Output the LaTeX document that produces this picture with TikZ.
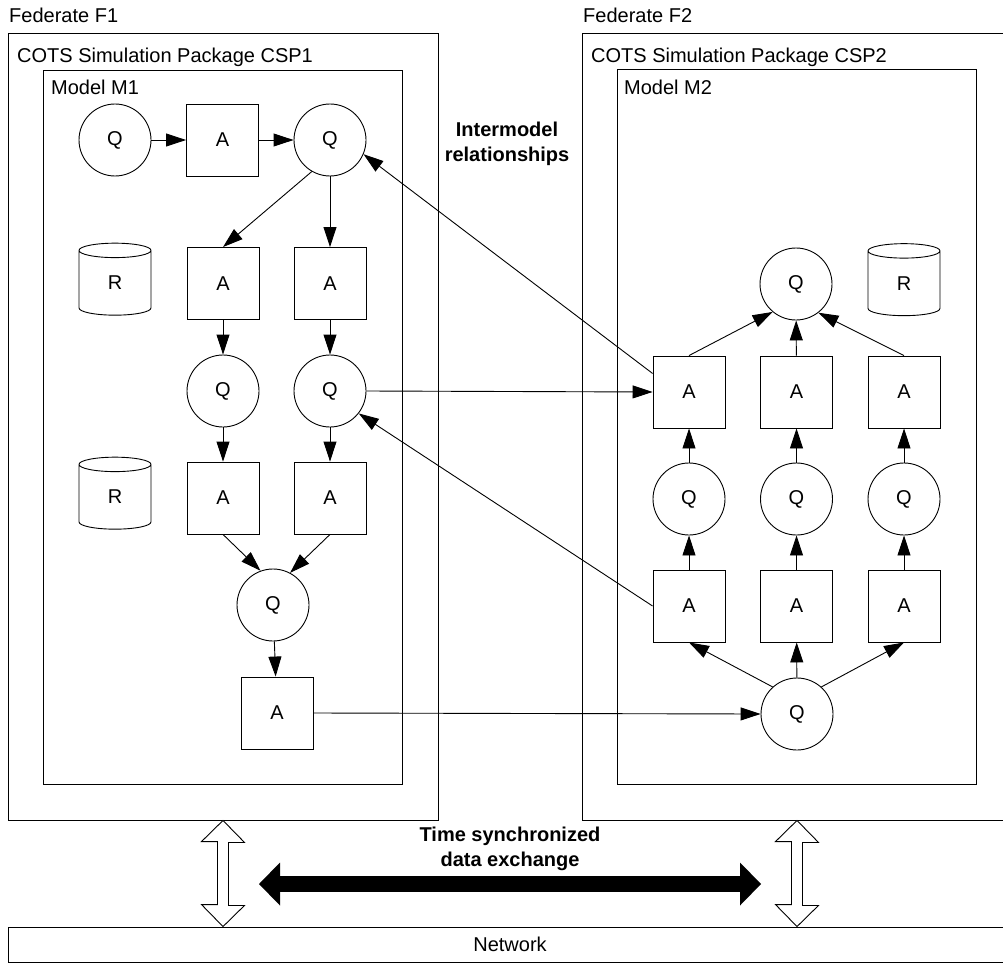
\documentclass[tikz,border=0pt]{standalone}
\usepackage{fontspec}
\setmainfont{Liberation Sans}
\usetikzlibrary{arrows.meta,shapes.geometric}

\tikzset{
  queue/.style={circle, draw, line width=0.9pt, minimum size=72pt, inner sep=0pt},
  activity/.style={rectangle, draw, line width=0.9pt, minimum size=72pt, inner sep=0pt},
  resource/.style={cylinder, draw, line width=0.9pt, shape border rotate=90, aspect=1,
    minimum width=72pt, minimum height=72pt, inner sep=0pt},
  container/.style={rectangle, draw, line width=0.9pt, inner sep=0pt},
  caption/.style={anchor=base west, inner sep=0pt},
  flow/.style={-{Triangle[length=20pt,width=13pt]}, line width=0.9pt},
  hollow/.style={draw, fill=white, line width=0.9pt, line join=miter},
}

\begin{document}
\begin{tikzpicture}[x=1pt,y=-1pt,font=\fontsize{20pt}{24.5pt}\selectfont]
  \useasboundingbox (0,0) rectangle (1003,963);
  \clip (0,0) rectangle (1003,963);

  % federates, packages and models
  \node[container, minimum width=430pt, minimum height=787pt] (fed1) at (223,426.5) {};
  \node[container, minimum width=359pt, minimum height=714pt] (mod1) at (222.5,427) {};
  \node[container, minimum width=430pt, minimum height=787pt] (fed2) at (797,426.5) {};
  \node[container, minimum width=359pt, minimum height=715pt] (mod2) at (796.5,426.5) {};
  \node[container, minimum width=1004pt, minimum height=35pt] (network) at (510,944.5) {Network};

  \node[caption] (fed1label) at (9,23) {Federate F1};
  \node[caption] (csp1label) at (17,63) {COTS Simulation Package CSP1};
  \node[caption] (mod1label) at (51,95) {Model M1};
  \node[caption] (fed2label) at (583,23) {Federate F2};
  \node[caption] (csp2label) at (591,63) {COTS Simulation Package CSP2};
  \node[caption] (mod2label) at (624,95) {Model M2};

  % model M1
  \node[queue] (q11) at (115,140) {Q};
  \node[activity] (a11) at (222.5,140) {A};
  \node[queue] (q12) at (330,140) {Q};
  \node[resource] (r1) at (115,283) {R};
  \node[activity] (a21) at (223,283.5) {A};
  \node[activity] (a22) at (330,283.5) {A};
  \node[queue] (q21) at (223,391) {Q};
  \node[queue] (q22) at (330,391) {Q};
  \node[resource] (r2) at (115,497) {R};
  \node[activity] (a31) at (223,498) {A};
  \node[activity] (a32) at (330,498) {A};
  \node[queue] (q3) at (273,605) {Q};
  \node[activity] (a4) at (277,713) {A};

  \draw[flow] (q11) -- (a11);
  \draw[flow] (a11) -- (q12);
  \draw[flow] (q12.240) -- (a21.north);
  \draw[flow] (q12) -- (a22);
  \draw[flow] (a21) -- (q21);
  \draw[flow] (a22) -- (q22);
  \draw[flow] (q21) -- (a31);
  \draw[flow] (q22) -- (a32);
  \draw[flow] (a31.south) -- (q3.110);
  \draw[flow] (a32.south) -- (q3.62);
  \draw[flow] (q3) -- (a4);

  % model M2
  \node[queue] (q5) at (796,284) {Q};
  \node[resource] (r3) at (904,283.5) {R};
  \foreach \i/\x in {1/689,2/796.5,3/904} {
    \node[activity] (a5\i) at (\x,392) {A};
    \node[queue] (q6\i) at (\x,499) {Q};
    \node[activity] (a7\i) at (\x,606) {A};
  }
  \node[queue] (q8) at (797,714) {Q};

  \foreach \i in {1,2,3} {
    \draw[flow] (a7\i) -- (q6\i);
    \draw[flow] (q6\i) -- (a5\i);
  }
  \draw[flow] (a51.north) -- (q5.230);
  \draw[flow] (a52) -- (q5);
  \draw[flow] (a53.north) -- (q5.308);
  \draw[flow] (q8.132) -- (a71.south);
  \draw[flow] (q8) -- (a72);
  \draw[flow] (q8.48) -- (a73.south);

  % intermodel relationships
  \node[align=center, anchor=north, inner sep=0pt] (intertext) at (507,122) {\bfseries Intermodel\\\bfseries relationships};
  \draw[flow] (a51.153) -- (q12.337);
  \draw[flow] (q22.east) -- (a51.west);
  \draw[flow] (a71.west) -- (q22.322);
  \draw[flow] (a4.east) -- (q8.west);

  % data exchange over the network
  \node[align=center, anchor=north, inner sep=0pt] (synctext) at (510,827) {\bfseries Time synchronized\\\bfseries data exchange};
  \coordinate (syncl) at (259,884);
  \coordinate (syncr) at (761,884);
  \draw[line width=16pt, {Triangle[length=21pt,width=43pt,line width=0pt]}-{Triangle[length=21pt,width=43pt,line width=0pt]}] (syncl) -- (syncr);

  \draw[hollow] (fed1.south) -- ++(21.5,22) -- ++(-16,0) -- ++(0,63) -- ++(16,0) -- (fed1.south |- network.north)
    -- ++(-21.5,-22) -- ++(16,0) -- ++(0,-63) -- ++(-16,0) -- cycle;
  \draw[hollow] (fed2.south) -- ++(21.5,22) -- ++(-16,0) -- ++(0,63) -- ++(16,0) -- (fed2.south |- network.north)
    -- ++(-21.5,-22) -- ++(16,0) -- ++(0,-63) -- ++(-16,0) -- cycle;
\end{tikzpicture}
\end{document}
